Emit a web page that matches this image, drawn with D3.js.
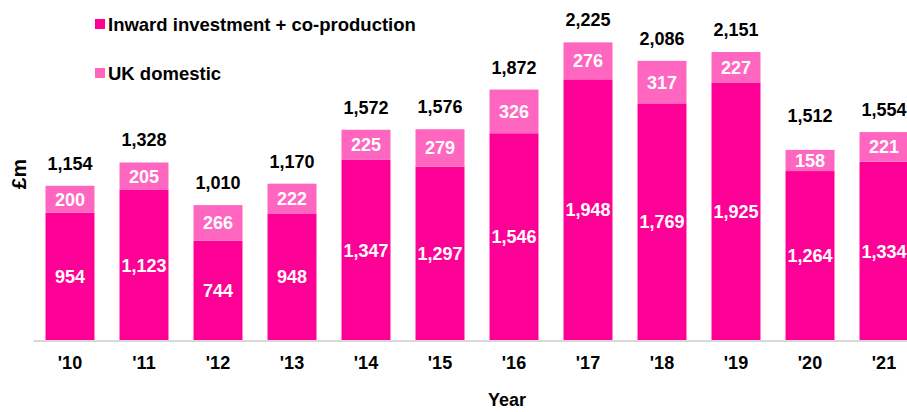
<!DOCTYPE html>
<html>
<head>
<meta charset="utf-8">
<script src="https://cdn.jsdelivr.net/npm/d3@7"></script>
<style>
	body { margin: 0; background: #fff; }
	svg text { font-family: "Liberation Sans", Arial, sans-serif; font-weight: bold; }
</style>
</head>
<body>
<div id="chart"></div>
<script>
const years = ["'10", "'11", "'12", "'13", "'14", "'15", "'16", "'17", "'18", "'19", "'20", "'21"];
const inward = [954, 1123, 744, 948, 1347, 1297, 1546, 1948, 1769, 1925, 1264, 1334];
const domestic = [200, 205, 266, 222, 225, 279, 326, 276, 317, 227, 158, 221];
const totals = [1154, 1328, 1010, 1170, 1572, 1576, 1872, 2225, 2086, 2151, 1512, 1554];
const seriesNames = ["Inward investment + co-production", "UK domestic"];

const colors = { inward: "#ff0096", domestic: "#ff66c0" };
const fmt = d3.format(",");

const width = 907, height = 412;
const base = 340.5;

const svg = d3.select("#chart").append("svg")
	.attr("width", width)
	.attr("height", height);

const x = d3.scaleBand()
	.domain(years)
	.range([33, 921])
	.paddingInner(0.338)
	.paddingOuter(0.169);

const y = d3.scaleLinear()
	.domain([0, 2540])
	.range([base, 0]);

const rows = years.map((yr, i) => ({
	year: yr,
	inward: inward[i],
	domestic: domestic[i],
	total: totals[i]
}));

// bars
const g = svg.selectAll(".bar")
	.data(rows)
	.enter().append("g")
	.attr("class", "bar");

g.append("rect")
	.attr("x", (d) => x(d.year))
	.attr("width", x.bandwidth())
	.attr("y", (d) => y(d.inward))
	.attr("height", (d) => y(0) - y(d.inward))
	.attr("fill", colors.inward);

g.append("rect")
	.attr("x", (d) => x(d.year))
	.attr("width", x.bandwidth())
	.attr("y", (d) => y(d.inward + d.domestic))
	.attr("height", (d) => y(d.inward) - y(d.inward + d.domestic))
	.attr("fill", colors.domestic);

// segment labels
g.append("text")
	.attr("x", (d) => x(d.year) + x.bandwidth() / 2)
	.attr("y", (d) => (y(0) + y(d.inward)) / 2)
	.attr("dy", "0.36em")
	.attr("text-anchor", "middle")
	.attr("fill", "#fff")
	.style("font-size", "18px")
	.text((d) => fmt(d.inward));

g.append("text")
	.attr("x", (d) => x(d.year) + x.bandwidth() / 2)
	.attr("y", (d) => (y(d.inward) + y(d.inward + d.domestic)) / 2)
	.attr("dy", "0.36em")
	.attr("text-anchor", "middle")
	.attr("fill", "#fff")
	.style("font-size", "18px")
	.text((d) => fmt(d.domestic));

// totals
g.append("text")
	.attr("x", (d) => x(d.year) + x.bandwidth() / 2)
	.attr("y", (d) => y(d.total) - 16)
	.attr("text-anchor", "middle")
	.attr("fill", "#000")
	.style("font-size", "18px")
	.text((d) => fmt(d.total));

// x-axis
const axis = svg.append("g")
	.attr("transform", `translate(0,${base})`)
	.call(d3.axisBottom(x).tickSize(0).tickPadding(16));

axis.select(".domain")
	.attr("stroke", "#d9d9d9")
	.attr("stroke-width", 2);

axis.selectAll("text")
	.attr("fill", "#000")
	.style("font-size", "18px")
	.style("font-family", "'Liberation Sans', Arial, sans-serif")
	.style("font-weight", "bold");

svg.append("text")
	.attr("x", 507)
	.attr("y", 406)
	.attr("text-anchor", "middle")
	.style("font-size", "18px")
	.text("Year");

svg.append("text")
	.attr("transform", "translate(26,174) rotate(-90)")
	.attr("text-anchor", "middle")
	.style("font-size", "21px")
	.text("£m");

// legend
const legend = svg.selectAll(".legend")
	.data(seriesNames)
	.enter().append("g")
	.attr("class", "legend")
	.attr("transform", (d, i) => `translate(95,${24 + i * 49})`);

legend.append("rect")
	.attr("y", -5)
	.attr("width", 10)
	.attr("height", 10)
	.attr("fill", (d, i) => i == 0 ? colors.inward : colors.domestic);

legend.append("text")
	.attr("x", 13)
	.attr("dy", "0.36em")
	.style("font-size", "18.5px")
	.text((d) => d);
</script>
</body>
</html>
